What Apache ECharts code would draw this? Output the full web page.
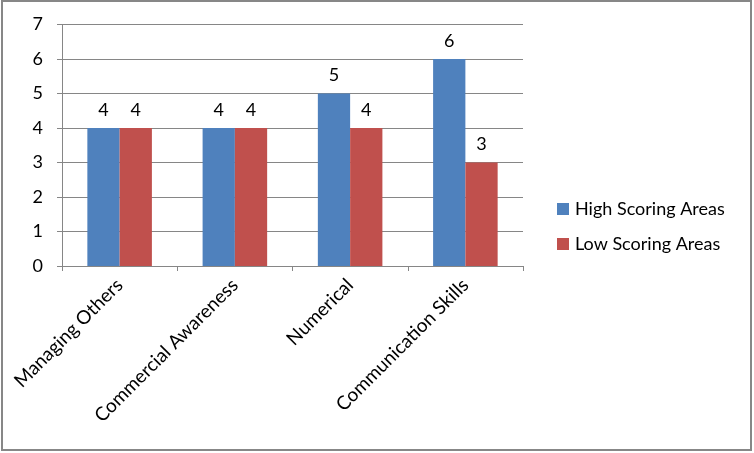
<!DOCTYPE html>
<html>
<head>
<meta charset="utf-8">
<script src="https://cdn.jsdelivr.net/npm/echarts@6/dist/echarts.min.js"></script>
<style>
html,body{margin:0;padding:0;background:#fff;}
#chart{width:754px;height:453px;}
</style>
</head>
<body>
<div id="chart"></div>
<script>
var categories = ['Managing Others', 'Commercial Awareness', 'Numerical', 'Communication Skills'];
var highScoring = [4, 4, 5, 6];
var lowScoring = [4, 4, 4, 3];
var seriesNames = ['High Scoring Areas', 'Low Scoring Areas'];
var yTicks = [0, 1, 2, 3, 4, 5, 6, 7];

var FONT = 'Lato, "Open Sans", sans-serif';
var chart = echarts.init(document.getElementById('chart'), null, {renderer: 'canvas'});
var labelStyle = {show: true, position: 'top', distance: 9, color: '#000', fontSize: 18, fontFamily: FONT};
chart.setOption({
  animation: false,
  backgroundColor: '#fff',
  graphic: [{
    type: 'rect', shape: {x: 2, y: 1, width: 749, height: 449},
    style: {fill: 'none', stroke: '#878787', lineWidth: 2}, silent: true
  }],
  grid: {left: 62, right: 231, top: 24.5, bottom: 187, containLabel: false},
  legend: {
    orient: 'vertical', left: 557, top: 200, padding: 0,
    itemWidth: 12, itemHeight: 12, itemGap: 17,
    icon: 'rect',
    textStyle: {fontSize: 18, fontFamily: FONT, color: '#000', padding: [0, 0, 0, 1]},
    data: seriesNames
  },
  xAxis: {
    type: 'category', data: categories,
    axisLine: {lineStyle: {color: '#868686', width: 1}},
    axisTick: {show: true, length: 5, lineStyle: {color: '#868686'}, alignWithLabel: false},
    axisLabel: {rotate: 45, interval: 0, margin: 16, fontSize: 19, fontFamily: FONT, color: '#000'}
  },
  yAxis: {
    type: 'value', min: 0, max: 7, interval: 1,
    axisLine: {show: true, lineStyle: {color: '#868686', width: 1}},
    axisTick: {show: true, length: 5, lineStyle: {color: '#868686'}},
    axisLabel: {margin: 19, fontSize: 18, fontFamily: FONT, color: '#000',
      formatter: function (v) { return yTicks.indexOf(v) >= 0 ? String(v) : ''; }},
    splitLine: {show: true, lineStyle: {color: '#868686', width: 1}}
  },
  series: [
    {name: seriesNames[0], type: 'bar', data: highScoring, barGap: '0%', barCategoryGap: '44%',
      itemStyle: {color: '#4F81BD'}, label: labelStyle},
    {name: seriesNames[1], type: 'bar', data: lowScoring,
      itemStyle: {color: '#C0504D'}, label: labelStyle}
  ]
});
</script>
</body>
</html>
